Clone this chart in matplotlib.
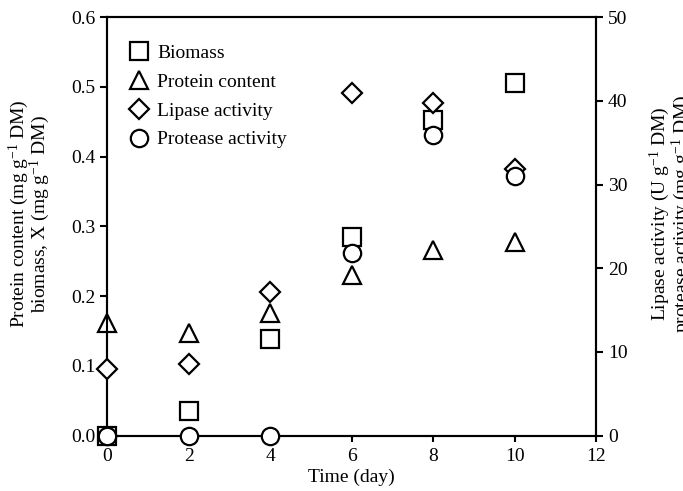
import matplotlib
matplotlib.use("Agg")
import matplotlib.pyplot as plt

plt.rcParams['font.family'] = ['Liberation Serif', 'DejaVu Serif']
plt.rcParams['mathtext.fontset'] = 'custom'
plt.rcParams['mathtext.rm'] = 'Liberation Serif'
plt.rcParams['mathtext.it'] = 'Liberation Serif:italic'
plt.rcParams['font.size'] = 14

days = [0, 2, 4, 6, 8, 10]
biomass = [0.0, 0.035, 0.138, 0.285, 0.452, 0.505]
protein = [0.161, 0.147, 0.176, 0.230, 0.266, 0.278]
lipase = [7.9, 8.5, 17.2, 40.9, 39.7, 31.8]
protease = [0.0, 0.0, 0.0, 21.8, 35.9, 31.0]

fig = plt.figure(figsize=(6.83, 4.91), dpi=100)
ax = fig.add_axes([0.157, 0.113, 0.716, 0.852])
ax2 = ax.twinx()

mk = dict(linestyle='none', markerfacecolor='white', markeredgecolor='black',
          markeredgewidth=1.6, clip_on=False)
h1, = ax.plot(days, biomass, marker='s', markersize=12.5, label='Biomass', zorder=3, **mk)
h2, = ax.plot(days, protein, marker='^', markersize=12.5, label='Protein content', zorder=4, **mk)
h3, = ax2.plot(days, lipase, marker='D', markersize=10, label='Lipase activity', zorder=5, **mk)
h4, = ax2.plot(days, protease, marker='o', markersize=12.5, label='Protease activity', zorder=6, **mk)

ax.set_xlim(0, 12)
ax.set_ylim(0, 0.6)
ax2.set_ylim(0, 50)
ax.set_xticks(range(0, 13, 2))
ax.set_yticks([0.0, 0.1, 0.2, 0.3, 0.4, 0.5, 0.6])
ax.set_yticklabels(['0.0', '0.1', '0.2', '0.3', '0.4', '0.5', '0.6'])
ax2.set_yticks(range(0, 51, 10))

for a in (ax, ax2):
    for s in a.spines.values():
        s.set_linewidth(1.5)
    a.tick_params(direction='out', length=5, width=1.5, labelsize=14)
ax.tick_params(axis='x', length=4, pad=5)

ax.set_xlabel('Time (day)', fontsize=14, labelpad=3)
ax.set_ylabel('Protein content (mg g$^{-1}$ DM)\nbiomass, X (mg g$^{-1}$ DM)',
              fontsize=14, linespacing=0.85)
ax.yaxis.set_label_coords(-0.112, 0.53)
ax2.set_ylabel('Lipase activity (U g$^{-1}$ DM)\nprotease activity (mg g$^{-1}$ DM)',
               fontsize=14, linespacing=0.85)
ax2.yaxis.set_label_coords(1.106, 0.53)

ax2.legend(handles=[h1, h2, h3, h4], loc='upper left', frameon=False,
           bbox_to_anchor=(0.019, 0.963), fontsize=14, handletextpad=0.4,
           labelspacing=0.575, handlelength=1.1, borderaxespad=0.2)

fig.savefig('out.png', dpi=100)
